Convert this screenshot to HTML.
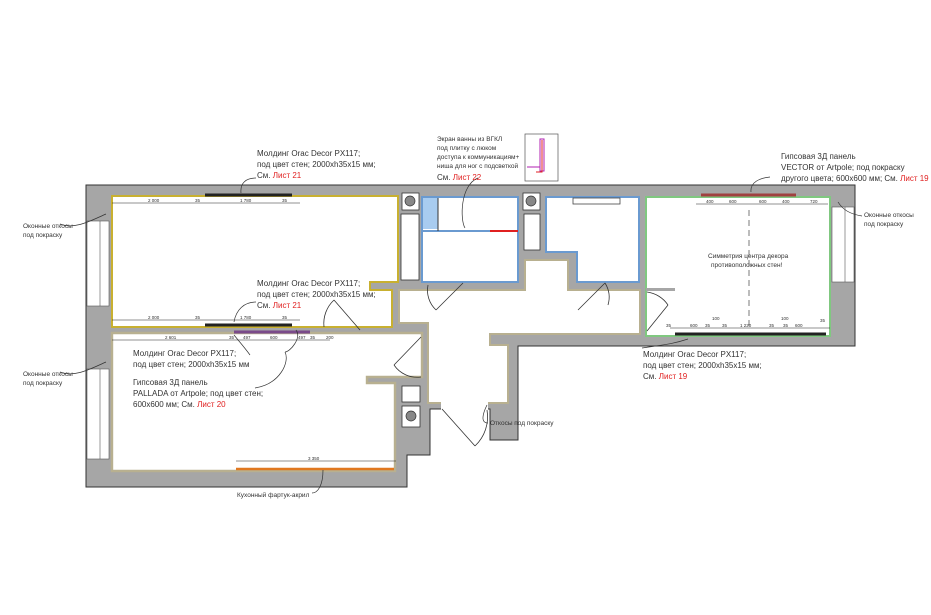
<!DOCTYPE html>
<html><head><meta charset="utf-8"><style>
body{margin:0;background:#fff}
svg{display:block}
text{font-family:"Liberation Sans","DejaVu Sans",sans-serif;fill:#333}
.s{font-size:6.5px}.m{font-size:8px}.r{fill:#e02020}.d{font-size:4.5px;fill:#222}
</style></head><body>
<svg width="931" height="615" viewBox="0 0 931 615" xmlns="http://www.w3.org/2000/svg">
<rect width="931" height="615" fill="#fff"/>
<path d="M86,185 H855 V346 H518 V440 H490 V409 H430 V455 H407 V487 H86 Z" fill="#a6a6a6" stroke="#333" stroke-width="1"/>
<rect x="87" y="221" width="22" height="85" fill="#fff" stroke="#555" stroke-width=".6"/>
<line x1="100" y1="221" x2="100" y2="306" stroke="#555" stroke-width=".6"/>
<rect x="87" y="369" width="22" height="90" fill="#fff" stroke="#555" stroke-width=".6"/>
<line x1="100" y1="369" x2="100" y2="459" stroke="#555" stroke-width=".6"/>
<rect x="832" y="207" width="22" height="75" fill="#fff" stroke="#555" stroke-width=".6"/>
<line x1="845" y1="207" x2="845" y2="282" stroke="#555" stroke-width=".6"/>
<g stroke="#333" stroke-width=".6" fill="#fff">
<rect x="113" y="228" width="4" height="72"/><rect x="113" y="377" width="4" height="70"/><rect x="826" y="209" width="4" height="70"/>
</g>
<path d="M112,196 H398 V282 H370 V290 H392 V327 H112 Z" fill="#fff" stroke="#c8b030" stroke-width="2"/>
<path d="M112,333 H422 V377 H367 V383 H395 V471 H112 Z" fill="#fff" stroke="#b8b090" stroke-width="2.4"/>
<path d="M399,290 H525 V260 H568 V290 H640 V334 H490 V345 H508 V403 H428 V333 H428 V323 H399 Z" fill="#fff" stroke="#b8b090" stroke-width="2"/>
<rect x="441" y="402" width="47" height="8" fill="#fff"/>
<rect x="422" y="197" width="96" height="85" fill="#fff" stroke="#6a9ad0" stroke-width="2"/>
<rect x="423" y="198" width="15" height="31" fill="#a8ccf0"/>
<line x1="422" y1="231" x2="518" y2="231" stroke="#6a9ad0" stroke-width="2"/>
<line x1="490" y1="231" x2="518" y2="231" stroke="#e02020" stroke-width="2"/>
<line x1="438" y1="198" x2="438" y2="231" stroke="#333" stroke-width="1"/>
<path d="M546,197 H639 V282 H577 V252 H546 Z" fill="#fff" stroke="#6a9ad0" stroke-width="2"/>
<rect x="573" y="198" width="47" height="6" fill="#fff" stroke="#444" stroke-width=".8"/>
<g fill="#fff" stroke="#333" stroke-width=".8">
<rect x="402" y="193" width="17" height="17"/><rect x="401" y="214" width="18" height="66"/>
<rect x="523" y="193" width="17" height="17"/><rect x="524" y="214" width="16" height="36"/>
<rect x="402" y="386" width="18" height="16"/><rect x="402" y="406" width="18" height="21"/>
</g>
<g fill="#888" stroke="#333" stroke-width=".7">
<circle cx="410" cy="201" r="5"/><circle cx="531" cy="201" r="5"/><circle cx="411" cy="416" r="5"/>
</g>
<path d="M646,197 H830 V336 H646 Z" fill="#fff" stroke="#80c880" stroke-width="2"/>
<path d="M646,288 H675 V291 H646 Z" fill="#a6a6a6"/>
<line x1="205" y1="195" x2="292" y2="195" stroke="#222" stroke-width="3"/>
<line x1="205" y1="325" x2="292" y2="325" stroke="#222" stroke-width="3"/>
<line x1="234" y1="332" x2="310" y2="332" stroke="#7a4a8a" stroke-width="3"/>
<line x1="236" y1="469" x2="394" y2="469" stroke="#e07820" stroke-width="2.5"/>
<line x1="701" y1="195" x2="796" y2="195" stroke="#a04040" stroke-width="3"/>
<line x1="675" y1="334" x2="826" y2="334" stroke="#222" stroke-width="3"/>
<g stroke="#222" stroke-width=".6">
<line x1="112" y1="203" x2="300" y2="203"/><line x1="112" y1="320" x2="300" y2="320"/>
<line x1="112" y1="340" x2="330" y2="340"/><line x1="236" y1="461" x2="396" y2="461"/>
<line x1="696" y1="204" x2="828" y2="204"/><line x1="670" y1="328" x2="830" y2="328"/>
<line x1="749" y1="210" x2="749" y2="326" stroke-dasharray="6,4"/>
</g>
<g class="d">
<text x="148" y="202">2 000</text><text x="195" y="202">35</text><text x="240" y="202">1 780</text><text x="282" y="202">35</text>
<text x="148" y="319">2 000</text><text x="195" y="319">35</text><text x="240" y="319">1 780</text><text x="282" y="319">35</text>
<text x="165" y="339">2 601</text><text x="229" y="339">35</text><text x="243" y="339">497</text><text x="270" y="339">600</text><text x="298" y="339">497</text><text x="310" y="339">35</text><text x="326" y="339">200</text>
<text x="308" y="460">3 350</text>
<text x="706" y="203">400</text><text x="729" y="203">600</text><text x="759" y="203">600</text><text x="782" y="203">400</text><text x="810" y="203">720</text>
<text x="666" y="327">35</text><text x="690" y="327">600</text><text x="705" y="327">35</text><text x="712" y="320">100</text><text x="722" y="327">35</text><text x="740" y="327">1 220</text><text x="769" y="327">35</text><text x="781" y="320">100</text><text x="783" y="327">35</text><text x="795" y="327">600</text><text x="820" y="322">35</text>
</g>
<g stroke="#333" stroke-width=".8" fill="none">
<line x1="334" y1="300" x2="360" y2="330"/><path d="M334,300 A32,32 0 0 0 324,327"/>
<line x1="421" y1="337" x2="394" y2="365"/><path d="M394,365 A28,28 0 0 0 421,377"/>
<line x1="463" y1="283" x2="436" y2="310"/><path d="M436,310 A27,27 0 0 1 428,285"/>
<line x1="605" y1="283" x2="578" y2="310"/><path d="M605,283 A27,27 0 0 1 608,305"/>
<line x1="668" y1="305" x2="647" y2="331"/><path d="M668,305 A30,30 0 0 0 647,292"/>
<line x1="442" y1="409" x2="475" y2="446"/><path d="M475,446 A40,40 0 0 0 487,410"/>
</g>
<g stroke="#333" stroke-width=".7" fill="none">
<path d="M256,178 C246,178 240,183 241,193"/><path d="M256,302 C244,302 236,310 234,322"/>
<path d="M296,330 C302,338 290,352 285,352"/><path d="M285,352 C290,362 280,384 255,388"/>
<path d="M234,335 C238,340 245,348 250,355"/>
<path d="M478,178 C460,185 460,220 465,228"/>
<path d="M770,177 C760,178 750,182 751,192"/><path d="M862,216 C850,214 843,210 838,202"/>
<path d="M642,348 C660,345 670,345 688,339"/>
<path d="M60,224 C75,230 92,220 106,214"/><path d="M60,372 C75,378 92,368 106,362"/>
<path d="M488,423 C480,423 483,413 487,405"/><path d="M312,493 C318,493 323,485 323,470"/>
</g>
<text class="m" x="257" y="156">Молдинг Orac Decor PX117;</text>
<text class="m" x="257" y="167">под цвет стен; 2000xh35x15 мм;</text>
<text class="m" x="257" y="178">См. <tspan class="r">Лист 21</tspan></text>
<text class="m" x="257" y="286">Молдинг Orac Decor PX117;</text>
<text class="m" x="257" y="297">под цвет стен; 2000xh35x15 мм;</text>
<text class="m" x="257" y="308">См. <tspan class="r">Лист 21</tspan></text>
<text class="m" x="133" y="356">Молдинг Orac Decor PX117;</text>
<text class="m" x="133" y="367">под цвет стен; 2000xh35x15 мм</text>
<text class="m" x="133" y="385">Гипсовая 3Д панель</text>
<text class="m" x="133" y="396">PALLADA от Artpole; под цвет стен;</text>
<text class="m" x="133" y="407">600x600 мм; См. <tspan class="r">Лист 20</tspan></text>
<text class="s" x="437" y="141">Экран ванны из ВГКЛ</text>
<text class="s" x="437" y="150">под плитку с люком</text>
<text class="s" x="437" y="159">доступа к коммуникациям+</text>
<text class="s" x="437" y="168">ниша для ног с подсветкой</text>
<text class="m" x="437" y="180">См. <tspan class="r">Лист 22</tspan></text>
<rect x="525" y="134" width="33" height="47" fill="#fff" stroke="#555" stroke-width=".7"/>
<path d="M540,139 H544 V171 H540 Z M527,167 H540" fill="none" stroke="#b020b0" stroke-width="1"/>
<path d="M542,140 V172 H536" fill="none" stroke="#e02020" stroke-width="1"/>
<text class="m" x="781" y="159">Гипсовая 3Д панель</text>
<text class="m" x="781" y="170">VECTOR от Artpole; под покраску</text>
<text class="m" x="781" y="181">другого цвета; 600x600 мм; См. <tspan class="r">Лист 19</tspan></text>
<text class="s" x="864" y="217">Оконные откосы</text>
<text class="s" x="864" y="226">под покраску</text>
<text class="s" x="23" y="228">Оконные откосы</text>
<text class="s" x="23" y="237">под покраску</text>
<text class="s" x="23" y="376">Оконные откосы</text>
<text class="s" x="23" y="385">под покраску</text>
<text class="s" x="708" y="258">Симметрия центра декора</text>
<text class="s" x="711" y="267">противоположных стен!</text>
<text class="m" x="643" y="357">Молдинг Orac Decor PX117;</text>
<text class="m" x="643" y="368">под цвет стен; 2000xh35x15 мм;</text>
<text class="m" x="643" y="379">См. <tspan class="r">Лист 19</tspan></text>
<text class="s" x="490" y="425">Откосы под покраску</text>
<text class="s" x="237" y="497">Кухонный фартук-акрил</text>
</svg>
</body></html>
